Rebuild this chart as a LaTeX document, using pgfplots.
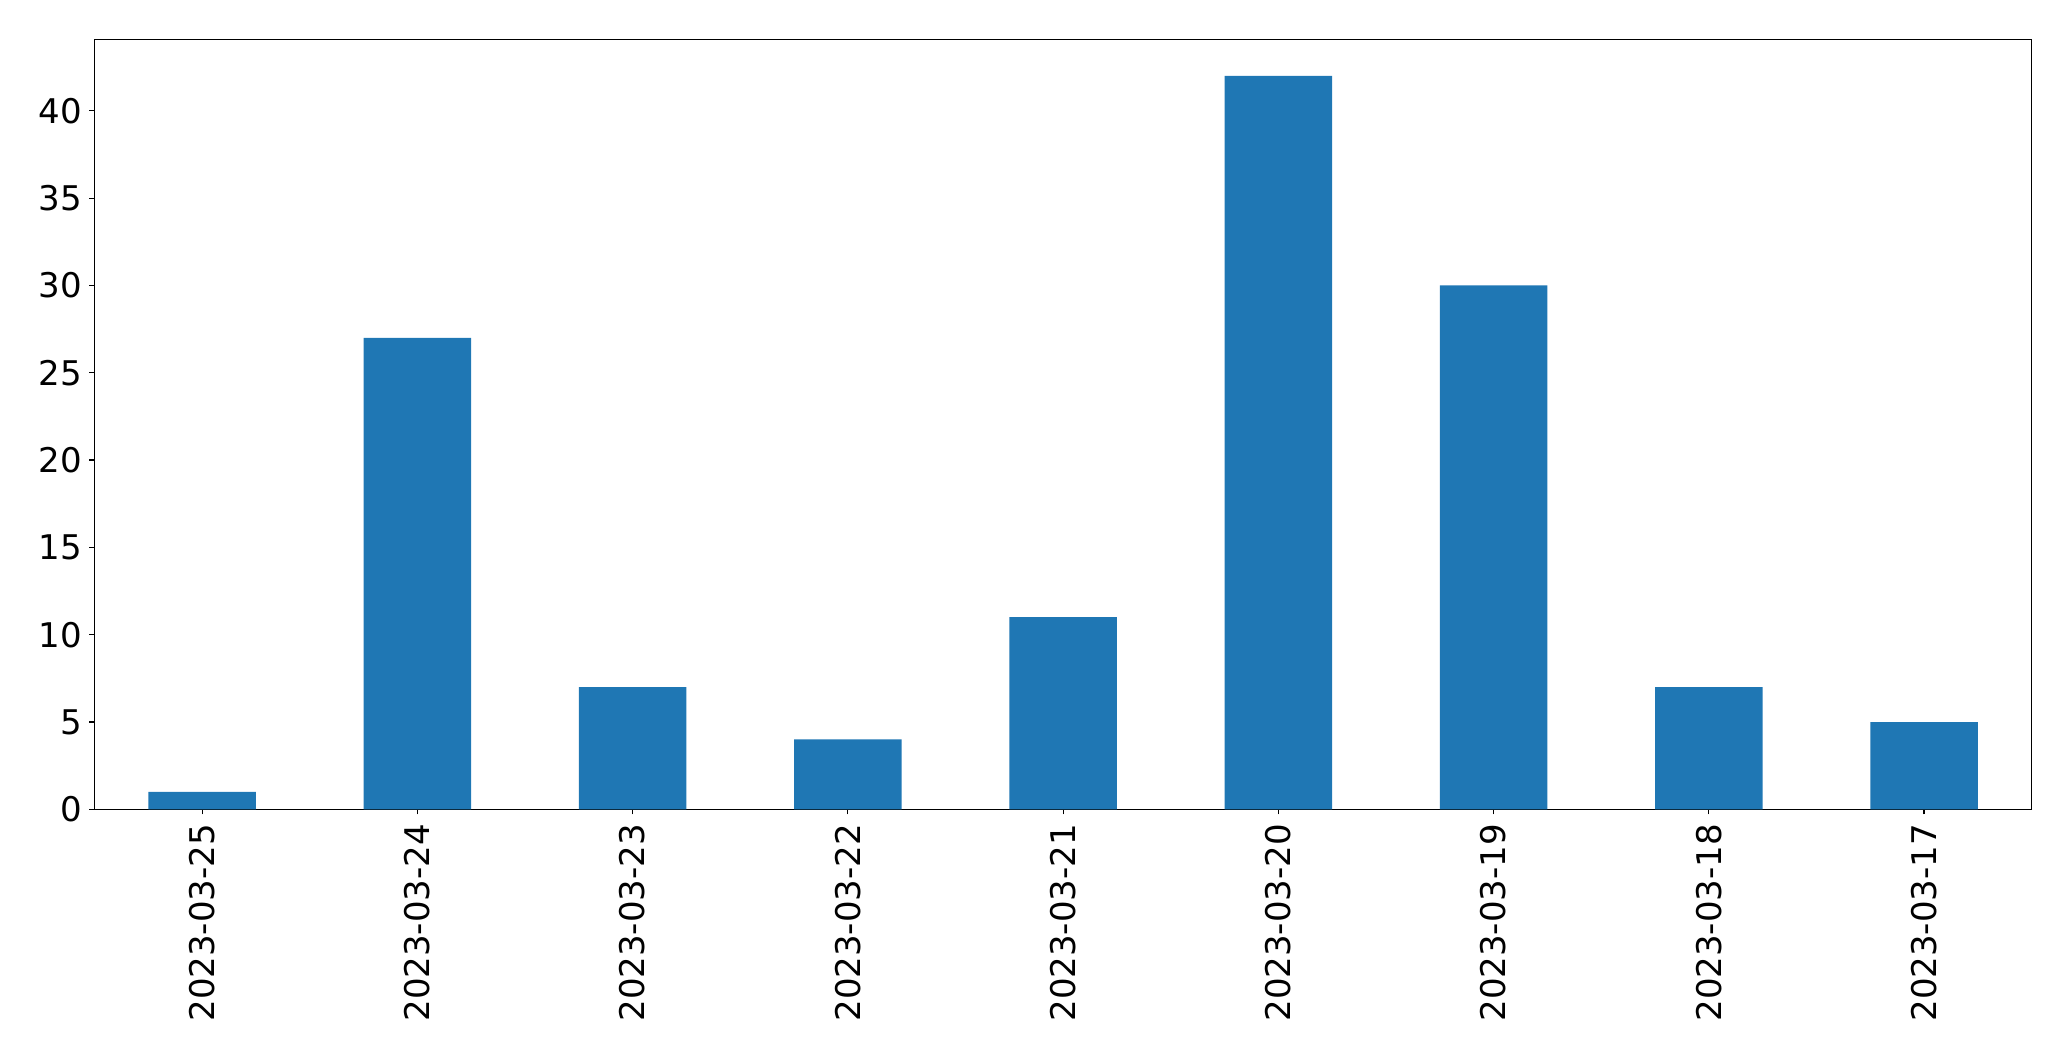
\documentclass[border=0pt]{standalone}
\usepackage{pgfplots}
\pgfplotsset{compat=1.18}
\usepackage{fontspec}
\setmainfont{DejaVu Sans}
\definecolor{mplblue}{HTML}{1F77B4}
\begin{document}
\begin{tikzpicture}
\useasboundingbox (-47.25pt,-125.85pt) rectangle (988.25pt,404.65pt);
\begin{axis}[
  at={(0,0)}, anchor=south west,
  scale only axis,
  width=968.6pt, height=385pt,
  xmin=-0.5, xmax=8.5,
  ymin=0, ymax=44.1,
  xtick={0,1,2,3,4,5,6,7,8},
  xticklabels={2023-03-25,2023-03-24,2023-03-23,2023-03-22,2023-03-21,2023-03-20,2023-03-19,2023-03-18,2023-03-17},
  ytick={0,5,10,15,20,25,30,35,40},
  tick align=outside,
  major tick length=2.5pt,
  tick style={black, line width=0.6pt},
  axis line style={line width=0.6pt},
  xtick pos=bottom, ytick pos=left,
  /pgf/number format/assume math mode=true,
  tick label style={font=\fontsize{17}{20}\selectfont},
  xticklabel style={rotate=90, anchor=east, inner sep=0pt, xshift=-4.6pt},
  yticklabel style={inner sep=0pt, xshift=-3.5pt},
  ybar, bar width=0.5, bar shift=0pt,
]
\addplot[fill=mplblue, draw=none] coordinates {
(0,1) (1,27) (2,7) (3,4) (4,11) (5,42) (6,30) (7,7) (8,5)
};
\end{axis}
\end{tikzpicture}
\end{document}
